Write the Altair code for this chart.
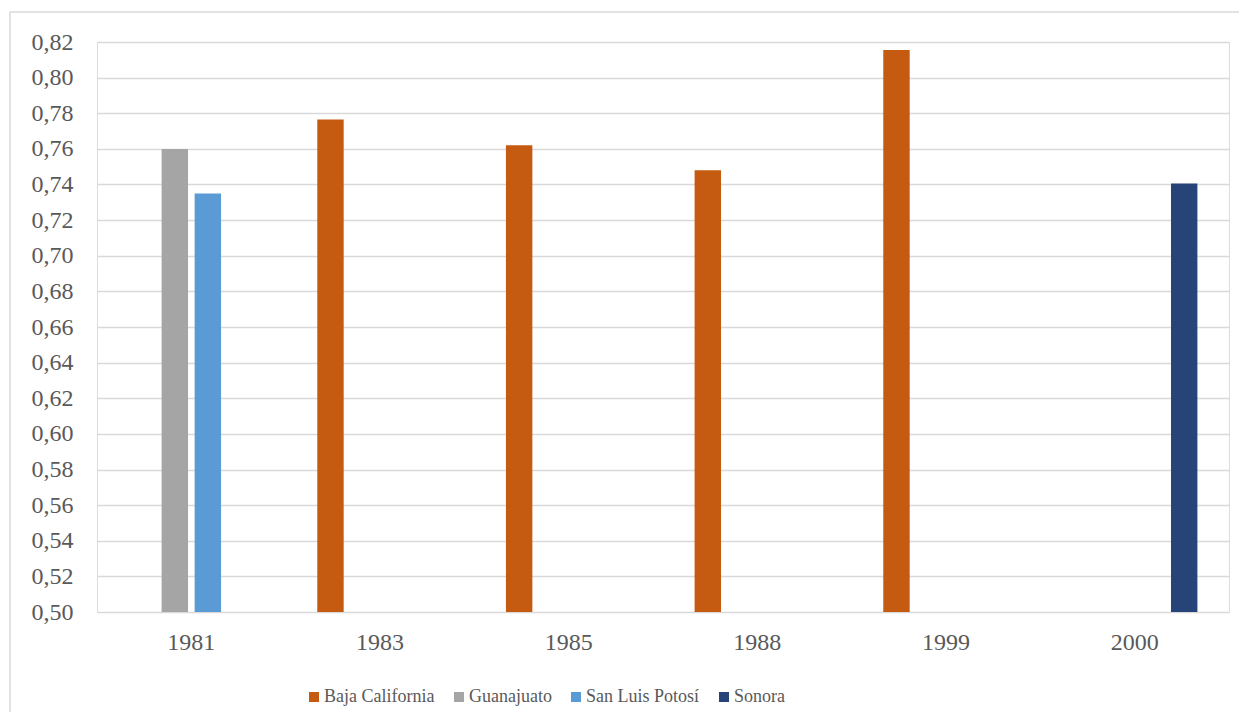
import altair as alt
import pandas as pd

years = ["1981", "1981", "1983", "1985", "1988", "1999", "2000"]
states = ["Guanajuato", "San Luis Potosí", "Baja California", "Baja California",
          "Baja California", "Baja California", "Sonora"]
values = [0.760, 0.735, 0.7765, 0.762, 0.748, 0.8155, 0.7405]

series = ["Baja California", "Guanajuato", "San Luis Potosí", "Sonora"]
colors = ["#C55A11", "#A5A5A5", "#5B9BD5", "#264478"]
year_order = ["1981", "1983", "1985", "1988", "1999", "2000"]

df = pd.DataFrame({"year": years, "state": states, "value": values})

FONT = "Liberation Serif"

bars = alt.Chart(df).mark_bar(clip=True).encode(
    x=alt.X("year:N", sort=year_order, title=None,
            scale=alt.Scale(paddingInner=0.3, paddingOuter=0.15),
            axis=alt.Axis(labelAngle=0, ticks=False, domain=False, grid=False,
                          labelPadding=18, labelFontSize=24, labelColor="#595959",
                          labelFont=FONT)),
    xOffset=alt.XOffset("state:N", sort=series,
                        scale=alt.Scale(domain=series, paddingInner=0.2, paddingOuter=0.1)),
    y=alt.Y("value:Q", title=None,
            scale=alt.Scale(domain=[0.5, 0.82], zero=False, nice=False),
            axis=alt.Axis(values=[round(0.5 + 0.02 * i, 2) for i in range(17)],
                          labelExpr="replace(format(datum.value, '.2f'), '.', ',')",
                          ticks=False, domain=False, gridColor="#D9D9D9", gridWidth=1.3,
                          labelPadding=24, labelFontSize=24, labelColor="#595959",
                          labelFont=FONT)),
    color=alt.Color("state:N", scale=alt.Scale(domain=series, range=colors),
                    legend=alt.Legend(orient="none", legendX=208, legendY=646,
                                      direction="horizontal", title=None,
                                      symbolType="square", symbolSize=100,
                                      symbolStrokeWidth=0,
                                      labelFontSize=18, labelFont=FONT,
                                      labelColor="#595959", columnPadding=15,
                                      labelOffset=1)),
)

border = alt.Chart(pd.DataFrame({"a": [0]})).mark_rect(
    fill=None, stroke="#D9D9D9", strokeWidth=1.5, clip=False
).encode(x=alt.value(-87), x2=alt.value(1160), y=alt.value(-30), y2=alt.value(700))

chart = alt.layer(border, bars).properties(
    width=1132, height=570,
    autosize=alt.AutoSizeParams(type="none"),
    padding={"left": 89, "top": 34, "right": 10, "bottom": 100},
).configure_view(stroke=None).configure(background="white").configure_axis(
    labelFont=FONT, labelColor="#595959"
).configure_legend(labelFont=FONT)

chart.save("out.html", embed_options={"renderer": "svg", "actions": False})
